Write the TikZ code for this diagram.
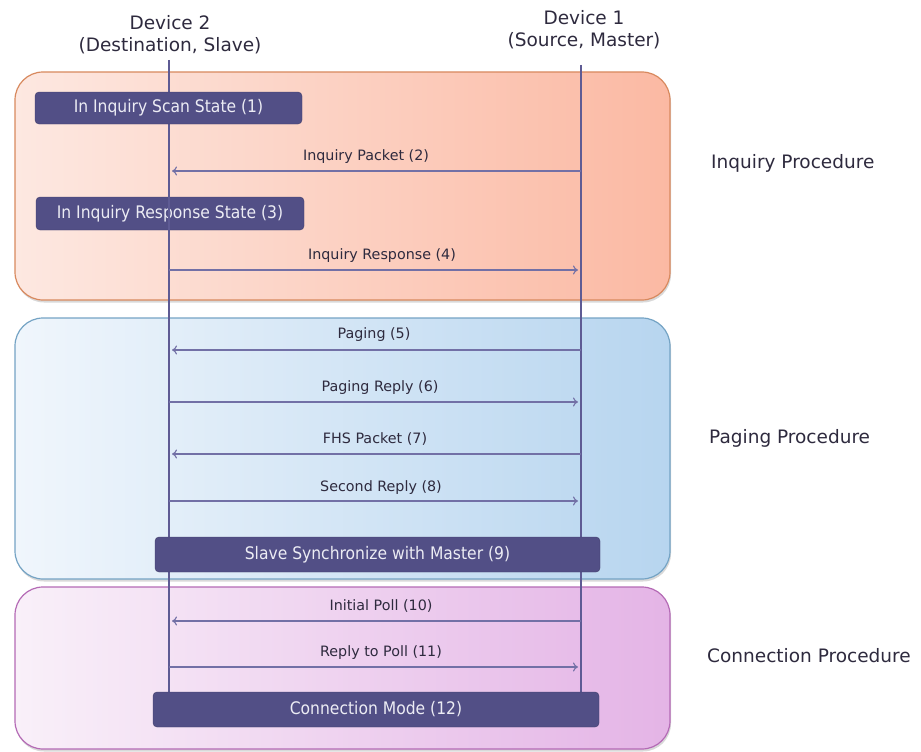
\documentclass[tikz,border=0pt]{standalone}
\usepackage{fontspec}
\setmainfont{DejaVu Sans}
\newfontfamily\condfont{DejaVu Sans Condensed}
\usetikzlibrary{shadows,arrows.meta}
\definecolor{txt}{HTML}{2E2A3E}
\definecolor{boxfill}{HTML}{524F86}
\definecolor{boxtxt}{HTML}{ECECF4}
\definecolor{lifecol}{HTML}{5E5B94}
\definecolor{arrcol}{HTML}{7270A6}
\definecolor{orL}{HTML}{FDE8E1}
\definecolor{orR}{HTML}{FBB9A3}
\definecolor{orB}{HTML}{D8895E}
\definecolor{blL}{HTML}{F0F6FC}
\definecolor{blR}{HTML}{B7D5EF}
\definecolor{blB}{HTML}{74A3C4}
\definecolor{pkL}{HTML}{F9F0F9}
\definecolor{pkR}{HTML}{E4B4E6}
\definecolor{pkB}{HTML}{B46AB5}
\tikzset{
  panel/.style={draw, line width=1.2pt, rounded corners=28pt, inner sep=0pt,
    minimum width=655pt, drop shadow={shadow xshift=1pt, shadow yshift=-2.5pt, opacity=0.3}},
  statebox/.style={fill=boxfill, draw=boxfill!80!black, line width=0.4pt, rounded corners=4pt,
    inner sep=0pt, text=boxtxt, font=\condfont\fontsize{17.3}{19}\selectfont},
  msg/.style={font=\fontsize{14.3}{16}\selectfont, text=txt, inner sep=0pt},
  devlabel/.style={font=\fontsize{18.5}{22}\selectfont, text=txt, align=center, inner sep=0pt},
  proclabel/.style={font=\fontsize{18.5}{21}\selectfont, text=txt, anchor=west, inner sep=0pt},
  lifeline/.style={draw=lifecol, line width=1.1pt},
  msgarrow/.style={draw=arrcol, line width=1.1pt, -{To[length=5pt,width=9pt]}, shorten >=3pt}
}
\begin{document}
\begin{tikzpicture}[x=1pt,y=-1pt]
\useasboundingbox (0,0) rectangle (921,752);
% panels
\node[panel, draw=orB, left color=orL, right color=orR, minimum height=228pt] (pinq) at (342.5,186) {};
\node[panel, draw=blB, left color=blL, right color=blR, minimum height=261pt] (ppag) at (342.5,448.5) {};
\node[panel, draw=pkB, left color=pkL, right color=pkR, minimum height=162pt] (pcon) at (342.5,668) {};
% device labels
\node[devlabel] (dev2) at (170,34.5) {Device 2\\(Destination, Slave)};
\node[devlabel] (dev1) at (584,30) {Device 1\\(Source, Master)};
% box 3 lies under the lifeline
\node[statebox, minimum width=268pt, minimum height=33pt] (b3) at (170,213.5) {In Inquiry Response State (3)};
% lifelines
\coordinate (l2t) at (169,60);
\coordinate (l2b) at (169,692);
\coordinate (l1t) at (581,65);
\coordinate (l1b) at (581,692);
\draw[lifeline] (l2t) -- (l2b);
\draw[lifeline] (l1t) -- (l1b);
% state boxes over lifelines
\node[statebox, minimum width=267pt, minimum height=32pt] (b1) at (168.5,108) {In Inquiry Scan State (1)};
\node[statebox, minimum width=445pt, minimum height=35pt] (b9) at (377.5,554.5) {Slave Synchronize with Master (9)};
\node[statebox, minimum width=446pt, minimum height=35pt] (b12) at (376,709.5) {Connection Mode (12)};
% message end points
\foreach \n/\y in {2/171,4/270,5/350,6/402,7/454,8/501,10/621,11/667}{
  \coordinate (s\n) at (169,\y);
  \coordinate (m\n) at (581,\y);
}
\draw[msgarrow] (m2) -- (s2);
\draw[msgarrow] (s4) -- (m4);
\draw[msgarrow] (m5) -- (s5);
\draw[msgarrow] (s6) -- (m6);
\draw[msgarrow] (m7) -- (s7);
\draw[msgarrow] (s8) -- (m8);
\draw[msgarrow] (m10) -- (s10);
\draw[msgarrow] (s11) -- (m11);
% message labels
\node[msg] (t2) at (366,157) {Inquiry Packet (2)};
\node[msg] (t4) at (382,256) {Inquiry Response (4)};
\node[msg] (t5) at (374,335) {Paging (5)};
\node[msg] (t6) at (380,388) {Paging Reply (6)};
\node[msg] (t7) at (375,439) {FHS Packet (7)};
\node[msg] (t8) at (381,488) {Second Reply (8)};
\node[msg] (t10) at (381,606) {Initial Poll (10)};
\node[msg] (t11) at (381,653) {Reply to Poll (11)};
% procedure labels
\node[proclabel] (lp1) at (711,163) {Inquiry Procedure};
\node[proclabel] (lp2) at (709,438) {Paging Procedure};
\node[proclabel] (lp3) at (707,656) {Connection Procedure};
\end{tikzpicture}
\end{document}
